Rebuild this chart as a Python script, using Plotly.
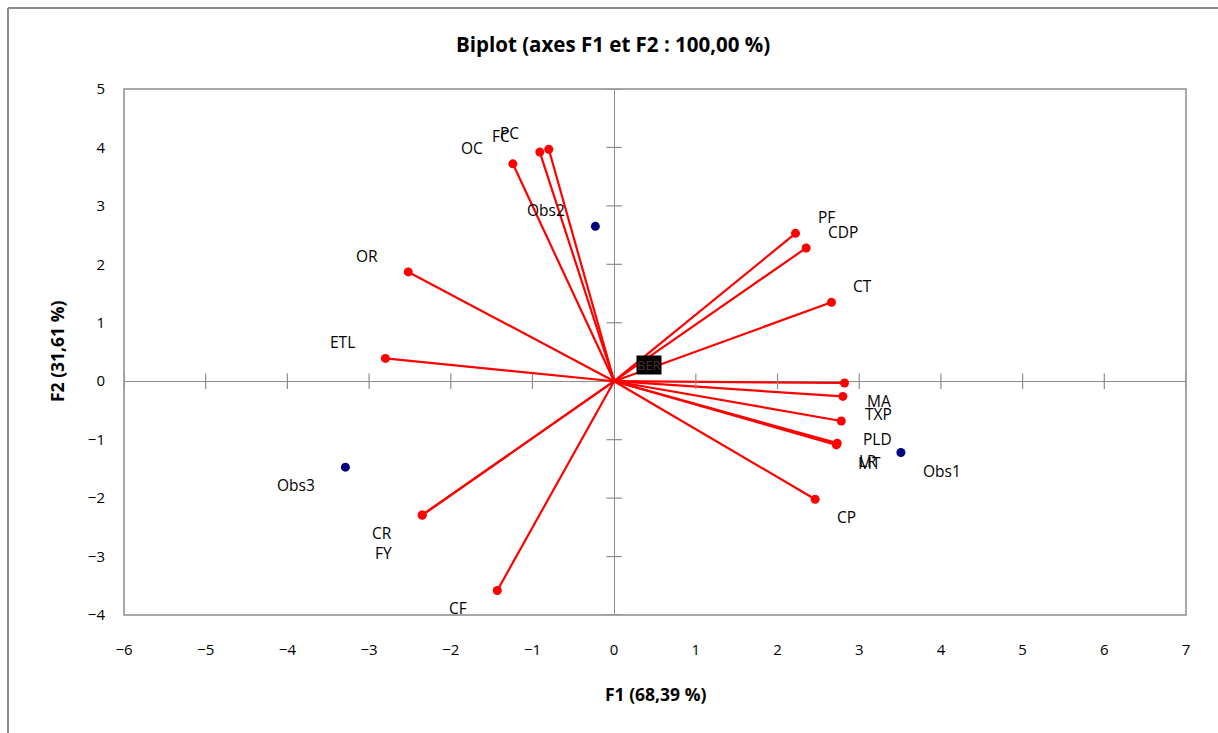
import plotly.graph_objects as go

# ---- data ----
variables = ["PC", "FC", "OC", "OR", "ETL", "PF", "CDP", "CT", "MA", "TXP",
             "PLD", "LR", "MT", "CP", "CR", "FY", "CF"]
var_f1 = [-0.80, -0.91, -1.24, -2.52, -2.80, 2.22, 2.35, 2.66, 2.82, 2.80,
          2.78, 2.73, 2.72, 2.46, -2.35, -2.35, -1.43]
var_f2 = [3.97, 3.92, 3.72, 1.87, 0.39, 2.53, 2.28, 1.35, -0.03, -0.26,
          -0.68, -1.06, -1.09, -2.02, -2.29, -2.29, -3.58]

observations = ["Obs1", "Obs2", "Obs3"]
obs_f1 = [3.51, -0.23, -3.29]
obs_f2 = [-1.22, 2.65, -1.47]

origin_label = "BER"

x_ticks = [-6, -5, -4, -3, -2, -1, 0, 1, 2, 3, 4, 5, 6, 7]
y_ticks = [-4, -3, -2, -1, 0, 1, 2, 3, 4, 5]

title_text = "Biplot (axes F1 et F2 : 100,00 %)"
x_title = "F1 (68,39 %)"
y_title = "F2 (31,61 %)"

FONT = "Open Sans"
GRAY = "#8c8c8c"

fig = go.Figure()

# vectors
for name, x, y in zip(variables, var_f1, var_f2):
    fig.add_trace(go.Scatter(x=[0, x], y=[0, y], mode="lines",
                             line=dict(color="#ff0000", width=2.2),
                             hoverinfo="skip", showlegend=False))
fig.add_trace(go.Scatter(x=var_f1, y=var_f2, mode="markers", text=variables,
                         marker=dict(color="#ff0000", size=9),
                         showlegend=False))
fig.add_trace(go.Scatter(x=obs_f1, y=obs_f2, mode="markers", text=observations,
                         marker=dict(color="#000080", size=9),
                         showlegend=False))

# axis tick marks on zero lines
xt = [v for v in x_ticks if v != 0]
yt = [v for v in y_ticks if v != 0]
fig.add_trace(go.Scatter(x=xt, y=[0] * len(xt),
                         mode="markers", hoverinfo="skip", showlegend=False,
                         marker=dict(symbol="line-ns-open", size=11, color=GRAY,
                                     line=dict(color=GRAY, width=1.2))))
fig.add_trace(go.Scatter(x=[0] * len(yt), y=yt,
                         mode="markers", hoverinfo="skip", showlegend=False,
                         marker=dict(symbol="line-ew-open", size=11, color=GRAY,
                                     line=dict(color=GRAY, width=1.2))))

annotations = []


def label(text, x, y, extra_y=0):
    right = x > 0
    annotations.append(dict(
        x=x, y=y, xref="x", yref="y", text=text, showarrow=False,
        xanchor="left" if right else "right", yanchor="middle",
        xshift=20 if right else -28,
        yshift=(16 if y >= 0 else -18) + extra_y,
        font=dict(family=FONT, size=15.5, color="#000000")))


for name, x, y in zip(variables, var_f1, var_f2):
    label(name, x, y, extra_y=-20 if name == "FY" else 0)
for name, x, y in zip(observations, obs_f1, obs_f2):
    label(name, x, y)

annotations.append(dict(x=0, y=0, xref="x", yref="y", text=origin_label,
                        showarrow=False, xanchor="left", yanchor="middle",
                        xshift=22, yshift=16, bgcolor="#000000",
                        font=dict(family=FONT, size=13, color="#4a3030"),
                        borderpad=0))

annotations += [
    dict(x=(613 - 124) / 1062, y=1.0 + 45 / 526, xref="paper", yref="paper",
         text="<b>" + title_text + "</b>",
         showarrow=False, xanchor="center", yanchor="middle",
         font=dict(family=FONT, size=20.5, color="#000000")),
    dict(x=0.5, y=-(694 - 615) / 526, xref="paper", yref="paper",
         text="<b>" + x_title + "</b>", showarrow=False, xanchor="center", yanchor="middle",
         font=dict(family=FONT, size=17.5, color="#000000")),
    dict(x=-(124 - 57) / 1062, y=0.5, xref="paper", yref="paper",
         text="<b>" + y_title + "</b>", showarrow=False, xanchor="center", yanchor="middle",
         textangle=-90, font=dict(family=FONT, size=17.5, color="#000000")),
]

shapes = [
    # outer chart frame (left and top edges visible)
    dict(type="line", xref="paper", yref="paper", x0=-(124 - 8) / 1062, x1=-(124 - 8) / 1062,
         y0=(615 - 8) / 526, y1=-0.4, line=dict(color=GRAY, width=2)),
    dict(type="line", xref="paper", yref="paper", x0=-(124 - 8) / 1062, x1=1.2,
         y0=(615 - 8) / 526, y1=(615 - 8) / 526, line=dict(color=GRAY, width=2)),
    # plot area border
    dict(type="rect", xref="paper", yref="paper", x0=0, x1=1, y0=0, y1=1,
         line=dict(color=GRAY, width=1.5), layer="below"),
]

axis_common = dict(showgrid=False, zeroline=True, zerolinecolor=GRAY, zerolinewidth=1.3,
                   showline=False, ticks="", tickfont=dict(family=FONT, size=15, color="#000000"))

fig.update_layout(
    width=1218, height=733,
    margin=dict(l=124, r=32, t=89, b=118),
    paper_bgcolor="white", plot_bgcolor="white",
    xaxis=dict(range=[-6, 7], tickvals=x_ticks, ticklabelstandoff=24, **axis_common),
    yaxis=dict(range=[-4, 5], tickvals=y_ticks, ticklabelstandoff=18, **axis_common),
    annotations=annotations, shapes=shapes,
    showlegend=False,
)

fig.write_html("out.html")
